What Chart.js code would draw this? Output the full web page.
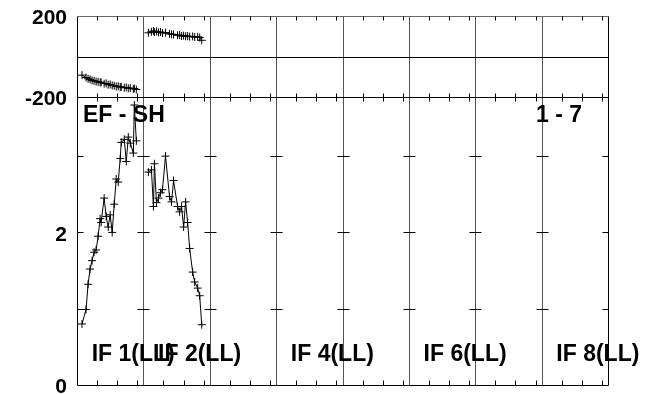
<!DOCTYPE html>
<html>
<head>
<meta charset="utf-8">
<script src="https://cdn.jsdelivr.net/npm/chart.js@4.4.1/dist/chart.umd.min.js"></script>
<style>
  html, body { margin: 0; padding: 0; background: #fff; }
</style>
</head>
<body>
<canvas id="plot" width="645" height="394"></canvas>
<script>
// IF names along the bottom (only some are printed in the original)
var ifNames = ['IF 1(LL)', 'IF 2(LL)', 'IF 3(LL)', 'IF 4(LL)', 'IF 5(LL)', 'IF 6(LL)', 'IF 7(LL)', 'IF 8(LL)'];
var ifShown = [true, true, false, true, false, true, false, true];
var chanPerIf = 66;
var chanTicks = [20, 40, 60];

var phaseLabels = [200, -200];
var phaseLines = [0];
var ampLabels = [2, 0];
var ampTicks = [1, 2, 3];
var ampMax = 3.775;

var baselineLabel = 'EF - SH';
var rangeLabel = '1 - 7';

// IF 1
var if1Chan  = [5, 9, 11, 13, 15, 17, 19, 21, 23, 24, 27, 29, 31, 33, 35, 37, 39, 41, 43, 44, 47, 49, 51, 53, 56, 57, 59];
var if1Amp   = [0.80, 0.99, 1.32, 1.52, 1.63, 1.74, 1.77, 1.95, 2.18, 2.13, 2.45, 2.21, 2.07, 2.23, 2.00, 2.37, 2.70, 2.66, 2.97, 3.18, 3.22, 2.93, 3.25, 3.17, 3.04, 3.67, 3.20];
var if1Phase = [-92, -104, -110, -113, -118, -120, -124, -125, -129, -127, -134, -133, -139, -138, -143, -144, -148, -147, -151, -150, -154, -153, -157, -156, -160, -158, -163];

// IF 2
var if2Chan  = [5, 8, 10, 11, 13, 15, 17, 19, 22, 26, 28, 30, 34, 36, 38, 40, 42, 44, 46, 49, 51, 54, 56, 58];
var if2Amp   = [2.79, 2.82, 2.34, 2.90, 2.39, 2.45, 2.52, 2.56, 3.00, 2.47, 2.40, 2.68, 2.34, 2.27, 2.34, 2.07, 2.40, 2.13, 1.79, 1.48, 1.35, 1.27, 1.17, 0.79];
var if2Phase = [117, 122, 126, 120, 124, 119, 121, 116, 118, 112, 110, 109, 105, 106, 101, 103, 100, 101, 98, 99, 96, 97, 94, 80];

function toPoints(chans, vals, ifIndex) {
  return chans.map(function (c, i) { return { x: c + ifIndex * chanPerIf, y: vals[i] }; });
}

function series(data, axis) {
  return {
    data: data,
    yAxisID: axis,
    borderColor: '#000',
    borderWidth: 1,
    backgroundColor: 'transparent',
    pointStyle: 'cross',
    pointRadius: 4,
    pointBorderWidth: 1,
    pointBorderColor: '#000',
    tension: 0
  };
}

function px(v) { return Math.round(v) + 0.5; }
function seg(ctx, x1, y1, x2, y2) { ctx.beginPath(); ctx.moveTo(x1, y1); ctx.lineTo(x2, y2); ctx.stroke(); }

var FONT = '"Liberation Sans", Arial, sans-serif';

var framePlugin = {
  id: 'frame',
  beforeDatasetsDraw: function (chart) {
    var ctx = chart.ctx, sx = chart.scales.x, ph = chart.scales.yPh, am = chart.scales.yAmp;
    var left = px(sx.getPixelForValue(sx.min)), right = px(sx.getPixelForValue(sx.max));
    var phTop = px(ph.getPixelForValue(ph.max)), phBot = px(ph.getPixelForValue(ph.min));
    var ampBot = px(am.getPixelForValue(0));
    ctx.save();
    ctx.lineWidth = 1;
    // IF boundaries
    ctx.strokeStyle = '#555';
    for (var s = 1; s < ifNames.length; s++) {
      var xb = px(sx.getPixelForValue(s * chanPerIf));
      seg(ctx, xb, phTop, xb, ampBot);
    }
    ctx.strokeStyle = '#666';
    seg(ctx, left, phTop, right, phTop);
    ctx.strokeStyle = '#000';
    phaseLines.forEach(function (v) {
      var y = px(ph.getPixelForValue(v));
      seg(ctx, left, y, right, y);
    });
    seg(ctx, left, phBot, right, phBot);
    seg(ctx, left, ampBot, right, ampBot);
    seg(ctx, left, phTop, left, ampBot);
    seg(ctx, right, phTop, right, ampBot);
    // channel ticks
    for (var i = 0; i < ifNames.length; i++) {
      chanTicks.forEach(function (off) {
        var xt = px(sx.getPixelForValue(i * chanPerIf + off));
        seg(ctx, xt, phTop, xt, phTop + 4);
        seg(ctx, xt, phBot - 4, xt, phBot + 4);
        seg(ctx, xt, ampBot - 5, xt, ampBot);
      });
    }
    // amplitude ticks at each IF boundary
    ampTicks.forEach(function (v) {
      var y = px(am.getPixelForValue(v));
      for (var k = 0; k <= ifNames.length; k++) {
        var xb = px(sx.getPixelForValue(k * chanPerIf));
        var a = k === 0 ? 0 : 6, b = k === ifNames.length ? 0 : 6;
        seg(ctx, xb - a, y, xb + b, y);
      }
    });
    ctx.restore();
  },
  afterDatasetsDraw: function (chart) {
    var ctx = chart.ctx, sx = chart.scales.x, ph = chart.scales.yPh, am = chart.scales.yAmp;
    var area = chart.chartArea;
    var ampTop = am.getPixelForValue(am.max), ampBot = am.getPixelForValue(0);
    ctx.save();
    ctx.fillStyle = '#000';
    ctx.font = 'bold 21px ' + FONT;
    ctx.textAlign = 'right';
    ctx.textBaseline = 'middle';
    phaseLabels.forEach(function (v) {
      ctx.fillText(String(v), area.left - 10, ph.getPixelForValue(v) + 2.5);
    });
    ampLabels.forEach(function (v) {
      ctx.fillText(String(v), area.left - 10, am.getPixelForValue(v) + 2.5);
    });
    ctx.font = 'bold 23px ' + FONT;
    ctx.textAlign = 'left';
    ctx.fillText(baselineLabel, area.left + 6, ampTop + 19);
    ctx.textAlign = 'right';
    ctx.fillText(rangeLabel, area.right - 26, ampTop + 19);
    ctx.textAlign = 'left';
    ifNames.forEach(function (name, i) {
      if (!ifShown[i]) return;
      ctx.fillText(name, sx.getPixelForValue(i * chanPerIf) + 14.7, ampBot - 30);
    });
    ctx.restore();
  }
};

var chart = new Chart(document.getElementById('plot'), {
  type: 'line',
  data: {
    datasets: [
      series(toPoints(if1Chan, if1Phase, 0), 'yPh'),
      series(toPoints(if2Chan, if2Phase, 1), 'yPh'),
      series(toPoints(if1Chan, if1Amp, 0), 'yAmp'),
      series(toPoints(if2Chan, if2Amp, 1), 'yAmp')
    ]
  },
  options: {
    responsive: false,
    animation: false,
    devicePixelRatio: 1,
    layout: { padding: { left: 77, top: 16, right: 37, bottom: 9 } },
    plugins: { legend: { display: false }, tooltip: { enabled: false } },
    scales: {
      x: { type: 'linear', min: 0, max: ifNames.length * chanPerIf, display: false },
      // left-side stacked scales are laid out bottom-up, so the lower panel comes first
      yAmp: { type: 'linear', position: 'left', stack: 'panels', stackWeight: 288, min: 0, max: ampMax, display: false },
      yPh: { type: 'linear', position: 'left', stack: 'panels', stackWeight: 81, min: -200, max: 200, display: false }
    }
  },
  plugins: [framePlugin]
});
</script>
</body>
</html>
